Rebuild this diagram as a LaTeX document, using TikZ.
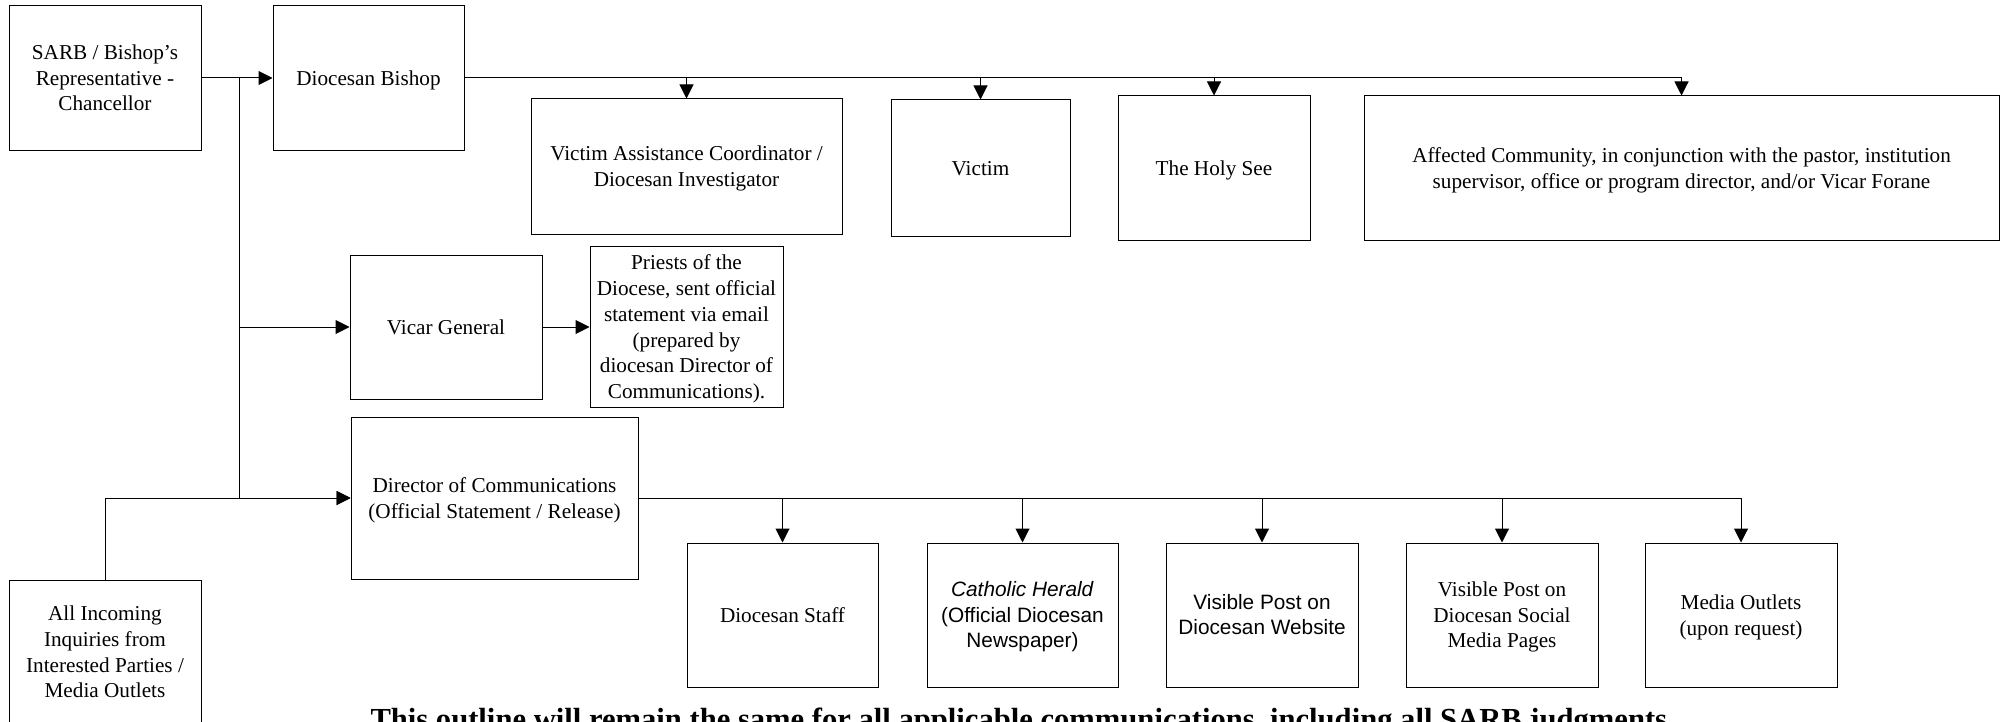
\documentclass[tikz,border=0pt]{standalone}
\usepackage{fontspec}
\setmainfont{Liberation Serif}
\newfontfamily\arialfont{Liberation Sans}
\usetikzlibrary{arrows.meta}
% strut with the ascent and descent of the font, so lines sit as in a word processor
\newcommand{\wstrut}{\rule[-0.216em]{0pt}{1.107em}}
\newcommand{\lines}[1]{\wstrut#1\wstrut}

\begin{document}
\begin{tikzpicture}[x=0.5pt, y=-0.5pt, ->, >={Triangle[length=7pt,width=7pt]}, line width=0.5pt]
        \tikzstyle{box}=[draw=black, fill=white, align=center, inner sep=2pt, font=\fontsize{10.6}{12.9}\selectfont]
        \tikzstyle{sans}=[font=\arialfont\fontsize{10.4}{12.6}\selectfont]
        \tikzstyle{drop}=[to path={(\tikztostart.east) -| (\tikztotarget.north)}]
        \tikzstyle{branch}=[to path={(\tikztostart) |- (\tikztotarget.west)}]
        \tikzstyle{rise}=[to path={(\tikztostart.north) |- (\tikztotarget.west)}]

        \useasboundingbox (0,0) rectangle (2007,722);
        \clip (0,0) rectangle (2007,722);

        \node[box, minimum width=96pt, minimum height=72pt] (SARB) at (105,78) {\lines{SARB / Bishop's\\ Representative -\\ Chancellor}};
        \node[box, minimum width=95.5pt, minimum height=72pt] (Bishop) at (368.5,78) {\lines{Diocesan Bishop}};
        \node[box, minimum width=155.5pt, minimum height=67.5pt] (VAC) at (686.5,166.5) {\lines{Victim Assistance Coordinator /\\ Diocesan Investigator}};
        \node[box, minimum width=89.5pt, minimum height=68pt] (Victim) at (980.5,168) {\lines{Victim}};
        \node[box, minimum width=96pt, minimum height=72pt] (See) at (1214,168) {\lines{The Holy See}};
        \node[box, minimum width=317.5pt, minimum height=72pt] (Comm) at (1681.5,168) {\lines{Affected Community, in conjunction with the pastor, institution\\ supervisor, office or program director, and/or Vicar Forane}};
        \node[box, minimum width=96pt, minimum height=72pt] (VG) at (446,327) {\lines{Vicar General}};
        \node[box, minimum width=96.5pt, minimum height=80.5pt] (Priests) at (686.5,327) {\lines{Priests of the\\ Diocese, sent official\\ statement via email\\ (prepared by\\ diocesan Director of\\ Communications).}};
        \node[box, minimum width=143.5pt, minimum height=81pt] (Dir) at (494.5,498) {\lines{Director of Communications\\ (Official Statement / Release)}};
        \node[box, minimum width=96pt, minimum height=72pt] (Inq) at (105,652) {\lines{All Incoming\\ Inquiries from\\ Interested Parties /\\ Media Outlets}};

        \node[box, minimum width=95.5pt, minimum height=72pt] (Staff) at (782.5,615) {\lines{Diocesan Staff}};
        \node[box, sans, minimum width=95.5pt, minimum height=72pt] (Herald) at (1022.5,615) {\lines{\textit{Catholic Herald}\\ (Official Diocesan\\ Newspaper)}};
        \node[box, sans, minimum width=96pt, minimum height=72pt] (Web) at (1262,615) {\lines{Visible Post on\\ Diocesan Website}};
        \node[box, minimum width=96pt, minimum height=72pt] (Social) at (1502,615) {\lines{Visible Post on\\ Diocesan Social\\ Media Pages}};
        \node[box, minimum width=96pt, minimum height=72pt] (Media) at (1741,615) {\lines{Media Outlets\\ (upon request)}};

        \node[anchor=base west, inner sep=0pt, font=\bfseries\fontsize{15.3}{18}\selectfont] (Note) at (370,729) {This outline will remain the same for all applicable communications, including all SARB judgments};

        \coordinate (T) at (239,78);

        \path (SARB) edge (Bishop)
              (T) edge [branch] (VG)
                  edge [branch] (Dir)
              (Inq) edge [rise] (Dir)
              (VG) edge (Priests)
              (Bishop) edge [drop] (VAC)
                       edge [drop] (Victim)
                       edge [drop] (See)
                       edge [drop] (Comm)
              (Dir) edge [drop] (Staff)
                    edge [drop] (Herald)
                    edge [drop] (Web)
                    edge [drop] (Social)
                    edge [drop] (Media);
\end{tikzpicture}
\end{document}
